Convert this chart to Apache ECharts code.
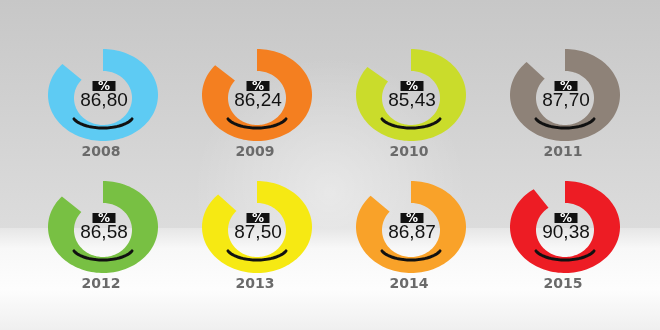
<!DOCTYPE html>
<html><head><meta charset="utf-8">
<script src="https://cdn.jsdelivr.net/npm/echarts@6/dist/echarts.min.js"></script>
<style>html,body{margin:0;padding:0;}#c{width:660px;height:330px;}</style>
</head><body><div id="c"></div>
<script>
const years = ['2008','2009','2010','2011','2012','2013','2014','2015'];
const values = [86.80, 86.24, 85.43, 87.70, 86.58, 87.50, 86.87, 90.38];
const columns = ['c1','c2','c3','c4'];
const rows = ['r1','r2'];
const palette = ['#5ecbf3','#f47f20','#cadc2b','#8e8278','#78c043','#f6e913','#f9a229','#ed1c24'];

const chart = echarts.init(document.getElementById('c'), null, {renderer:'canvas'});
const data = values.map((v,i)=>[columns[i%4], rows[Math.floor(i/4)], v, years[i]]);

function renderItem(params, api){
  const c = api.coord([api.value(0), api.value(1)]);
  const cx = c[0], cy = c[1];
  const v = api.value(2);
  const idx = params.dataIndex;
  const Rx = 55, Ry = 46, rx = 29, ry = 27, dy = 3;
  const a0 = Math.PI/2;
  const sweep = v/100*Math.PI*2;
  const n = 120;
  const outer = [], inner = [];
  for(let k=0;k<=n;k++){
    const t = a0 - sweep*k/n;
    outer.push([cx + Rx*Math.cos(t), cy - Ry*Math.sin(t)]);
    inner.push([cx + rx*Math.cos(t), cy + dy - ry*Math.sin(t)]);
  }
  const pts = outer.concat(inner.reverse());
  const smile = [];
  const ts = Math.acos(29/31);
  for(let k=0;k<=40;k++){
    const t = ts + (Math.PI-2*ts)*k/40;
    smile.push([cx + 31*Math.cos(t), cy + 19 + 14*Math.sin(t)]);
  }
  const label = v.toFixed(2).replace('.', ',');
  return {
    type:'group',
    children:[
      {type:'polygon', shape:{points:pts}, style:{fill:palette[idx]}},
      {type:'polyline', shape:{points:smile}, style:{stroke:'#111', lineWidth:3, fill:null, lineCap:'round'}},
      {type:'rect', shape:{x:cx-10.5, y:cy-14, width:23, height:10}, style:{fill:'#111'}},
      {type:'text', style:{text:'%', x:cx+1, y:cy-8.5, align:'center', verticalAlign:'middle', fill:'#fff', font:'bold 12px "DejaVu Sans"'}},
      {type:'text', style:{text:label, x:cx+1, y:cy+6, align:'center', verticalAlign:'middle', fill:'#111', font:'19px "Liberation Sans"'}},
      {type:'text', style:{text:api.value(3), x:cx-2, y:cy+57, align:'center', verticalAlign:'middle', fill:'#6a6a6a', font:'bold 14px "DejaVu Sans"'}}
    ]
  };
}

chart.setOption({
  animation:false,
  graphic:[
    {type:'rect', z:-11, shape:{x:0,y:0,width:660,height:228},
     style:{fill:{type:'linear', x:0, y:0, x2:0, y2:1, colorStops:[{offset:0,color:'#c7c7c7'},{offset:1,color:'#dcdcdc'}]}}},
    {type:'rect', z:-10, shape:{x:0,y:0,width:660,height:228},
     style:{fill:{type:'radial', x:0.5, y:0.85, r:0.6, colorStops:[{offset:0,color:'rgba(255,255,255,0.4)'},{offset:1,color:'rgba(255,255,255,0)'}]}}},
    {type:'rect', z:-10, shape:{x:0,y:228,width:660,height:102},
     style:{fill:{type:'linear', x:0, y:0, x2:0, y2:1, colorStops:[{offset:0,color:'#e6e6e6'},{offset:0.2,color:'#f8f8f8'},{offset:0.6,color:'#fdfdfd'},{offset:1,color:'#efefef'}]}}}
  ],
  grid:{left:26, right:18, top:29, bottom:37, show:false},
  xAxis:{type:'category', data:columns, show:false},
  yAxis:{type:'category', data:rows, inverse:true, show:false},
  series:[{type:'custom', renderItem:renderItem, data:data, encode:{x:0, y:1}}]
});
</script></body></html>
